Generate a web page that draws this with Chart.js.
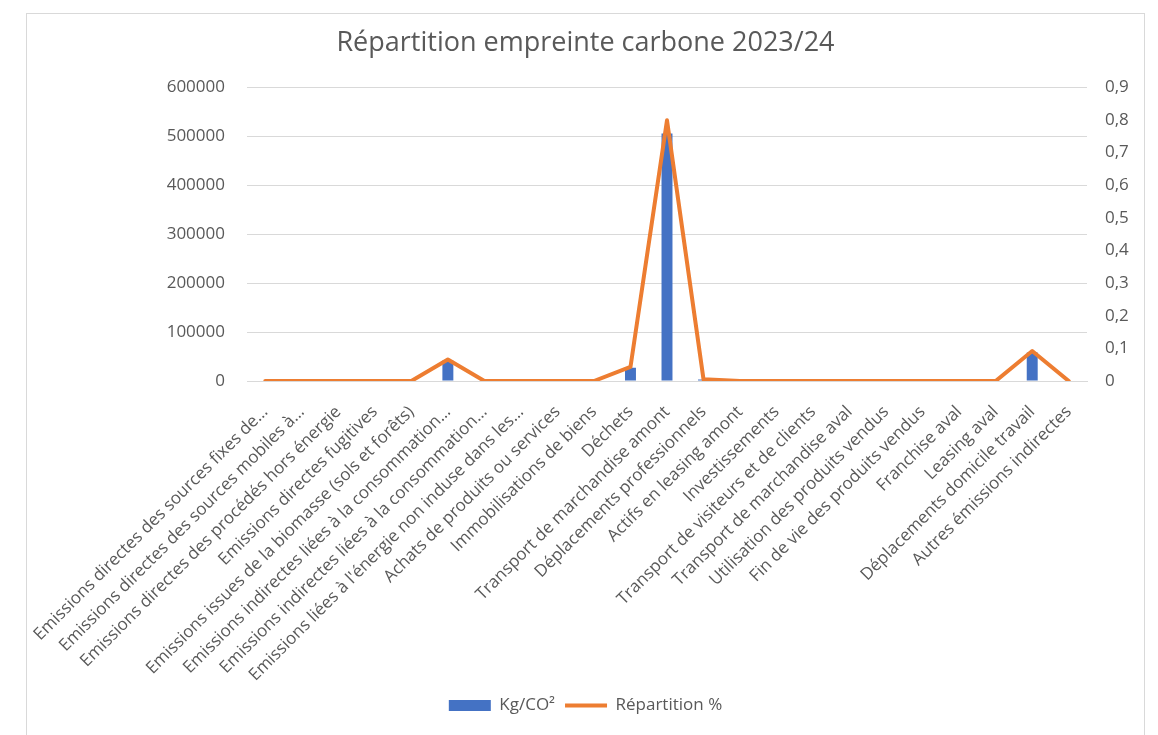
<!DOCTYPE html>
<html lang="fr">
<head>
<meta charset="UTF-8">
<title>Répartition empreinte carbone 2023/24</title>
<style>
    body { margin: 0; background: #fff; }
    #cadre {
        position: absolute;
        left: 26px;
        top: 13px;
        width: 1117px;
        height: 740px;
        border: 1px solid #d9d9d9;
    }
</style>
</head>
<body>
<div id="cadre">
    <canvas id="graphique" width="1117" height="722"></canvas>
</div>

<script src="https://cdn.jsdelivr.net/npm/chart.js"></script>
<script>
    const categories = [
        'Emissions directes des sources fixes de…',
        'Emissions directes des sources mobiles à…',
        'Emissions directes des procédés hors énergie',
        'Emissions directes fugitives',
        'Emissions issues de la biomasse (sols et forêts)',
        'Emissions indirectes liées à la consommation…',
        'Emissions indirectes liées à la consommation…',
        'Emissions liées à l\'énergie non induse dans les…',
        'Achats de produits ou services',
        'Immobilisations de biens',
        'Déchets',
        'Transport de marchandise amont',
        'Déplacements professionnels',
        'Actifs en leasing amont',
        'Investissements',
        'Transport de visiteurs et de clients',
        'Transport de marchandise aval',
        'Utilisation des produits vendus',
        'Fin de vie des produits vendus',
        'Franchise aval',
        'Leasing aval',
        'Déplacements domicile travail',
        'Autres émissions indirectes'
    ];

    const kgCO2 = [0, 0, 0, 0, 0, 42000, 0, 0, 0, 0, 27000, 506000, 3000, 0, 0, 0, 0, 0, 0, 0, 0, 58000, 0];
    const repartition = [0, 0, 0, 0, 0, 0.066, 0, 0, 0, 0, 0.043, 0.799, 0.005, 0, 0, 0, 0, 0, 0, 0, 0, 0.092, 0];

    const gris = '#595959';
    const police = "'Open Sans', sans-serif";

    Chart.defaults.font.family = police;
    Chart.defaults.color = gris;

    new Chart(document.getElementById('graphique'), {
        type: 'bar',
        data: {
            labels: categories,
            datasets: [{
                label: 'Kg/CO²',
                data: kgCO2,
                backgroundColor: '#4472c4',
                borderWidth: 0,
                barPercentage: 0.3,
                categoryPercentage: 1,
                yAxisID: 'y',
                order: 2
            }, {
                type: 'line',
                label: 'Répartition %',
                data: repartition,
                borderColor: '#ed7d31',
                backgroundColor: '#ed7d31',
                borderWidth: 4,
                borderCapStyle: 'round',
                borderJoinStyle: 'round',
                pointRadius: 0,
                tension: 0,
                yAxisID: 'y2',
                order: 1
            }]
        },
        options: {
            responsive: false,
            animation: false,
            layout: { padding: { top: 0, left: 0, right: 0, bottom: 12 } },
            plugins: {
                title: {
                    display: true,
                    text: 'Répartition empreinte carbone 2023/24',
                    color: gris,
                    font: { size: 27, weight: 'normal' },
                    padding: { top: 13, bottom: 28 }
                },
                legend: {
                    position: 'bottom',
                    labels: {
                        usePointStyle: true,
                        pointStyleWidth: 42,
                        boxHeight: 11,
                        padding: 10,
                        color: gris,
                        font: { size: 17 },
                        sort: (a, b) => a.datasetIndex - b.datasetIndex,
                        generateLabels: function (chart) {
                            const items = Chart.defaults.plugins.legend.labels.generateLabels(chart);
                            items.forEach(function (it) {
                                it.pointStyle = it.datasetIndex === 0 ? 'rect' : 'line';
                            });
                            return items;
                        }
                    }
                },
                tooltip: { enabled: false }
            },
            scales: {
                x: {
                    grid: { display: false },
                    border: { display: true, color: '#d9d9d9' },
                    ticks: {
                        autoSkip: false,
                        minRotation: 45,
                        maxRotation: 45,
                        padding: 13,
                        color: gris,
                        font: { size: 17 }
                    },
                    afterFit: function (scale) {
                        scale.height = 306;
                        scale.paddingLeft = 0;
                        scale.paddingRight = 0;
                    }
                },
                y: {
                    position: 'left',
                    min: 0,
                    max: 600000,
                    border: { display: false },
                    grid: { color: '#d9d9d9', drawTicks: false },
                    ticks: {
                        stepSize: 100000,
                        padding: 22,
                        color: gris,
                        font: { size: 17 },
                        callback: function (v) { return String(v); }
                    },
                    afterFit: function (scale) { scale.width = 220; }
                },
                y2: {
                    position: 'right',
                    min: 0,
                    max: 0.9,
                    border: { display: false },
                    grid: { display: false, drawTicks: false },
                    ticks: {
                        stepSize: 0.1,
                        padding: 18,
                        color: gris,
                        font: { size: 17 },
                        callback: function (v) {
                            return v === 0 ? '0' : v.toFixed(1).replace('.', ',');
                        }
                    },
                    afterFit: function (scale) { scale.width = 57; }
                }
            }
        }
    });
</script>
</body>
</html>
